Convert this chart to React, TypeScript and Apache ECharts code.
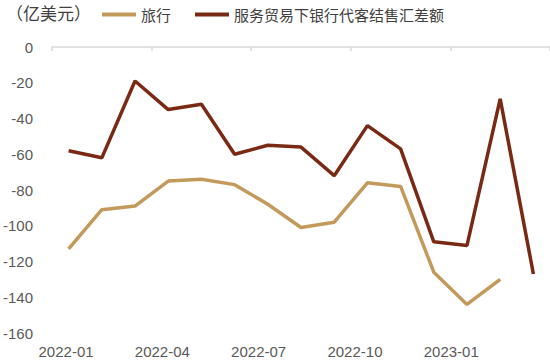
import React, { useEffect, useRef } from "react";
import * as echarts from "echarts";

const categories = [
  "2022-01", "2022-02", "2022-03", "2022-04", "2022-05", "2022-06", "2022-07",
  "2022-08", "2022-09", "2022-10", "2022-11", "2022-12", "2023-01", "2023-02", "2023-03",
];
const travel = [-113, -91, -89, -75, -74, -77, -88, -101, -98, -76, -78, -126, -144, -130, null];
const serviceNet = [-58, -62, -19, -35, -32, -60, -55, -56, -72, -44, -57, -109, -111, -29, -127];
const seriesNames = ["旅行", "服务贸易下银行代客结售汇差额"];
const unitLabel = "（亿美元）";

const FONT = "'Liberation Sans', 'Noto Sans CJK SC', sans-serif";
const CJK = "'Noto Sans CJK SC', sans-serif";

export default function App() {
  const ref = useRef<HTMLDivElement>(null);
  useEffect(() => {
    if (!ref.current) return;
    const chart = echarts.init(ref.current, null, { renderer: "svg" });
    chart.setOption({
      animation: false,
      backgroundColor: "#ffffff",
      textStyle: { fontFamily: FONT },
      graphic: [
        {
          type: "text",
          left: 6,
          top: 4,
          style: { text: unitLabel, font: `17px ${CJK}`, fill: "#404040" },
        },
      ],
      legend: {
        left: 97,
        top: 2,
        itemWidth: 34,
        itemHeight: 4,
        itemGap: 24,
        icon: "rect",
        textStyle: { fontSize: 15, color: "#404040", fontFamily: CJK },
        data: seriesNames,
      },
      grid: [
        { left: 52, right: -10.5, top: 47, bottom: 30 },
        { left: 50, right: 18.5, top: 47, bottom: 30 },
      ],
      xAxis: [
        {
          type: "category",
          gridIndex: 0,
          data: categories,
          position: "top",
          boundaryGap: true,
          axisLine: { show: true, lineStyle: { color: "#d9d9d9", width: 1.5 } },
          axisTick: { show: true, inside: true, interval: 2, length: 4, lineStyle: { color: "#d9d9d9", width: 1.5 } },
          axisLabel: { show: false },
          splitLine: { show: false },
        },
        {
          type: "category",
          gridIndex: 1,
          data: categories,
          position: "bottom",
          boundaryGap: true,
          axisLine: { show: false },
          axisTick: { show: false },
          axisLabel: { show: true, interval: 2, color: "#595959", fontSize: 15, margin: 11, fontFamily: FONT },
          splitLine: { show: false },
        },
      ],
      yAxis: [
        {
          type: "value",
          gridIndex: 0,
          min: -160,
          max: 0,
          interval: 20,
          axisLine: { show: false },
          axisTick: { show: false },
          splitLine: { show: false },
          axisLabel: { color: "#595959", fontSize: 15, margin: 19, fontFamily: FONT },
        },
        {
          type: "value",
          gridIndex: 1,
          min: -160,
          max: 0,
          show: false,
        },
      ],
      series: [
        {
          name: seriesNames[0],
          type: "line",
          xAxisIndex: 0,
          yAxisIndex: 0,
          data: travel,
          symbol: "none",
          lineStyle: { color: "#C39A5B", width: 3.5 },
          itemStyle: { color: "#C39A5B" },
        },
        {
          name: seriesNames[1],
          type: "line",
          xAxisIndex: 0,
          yAxisIndex: 0,
          data: serviceNet,
          symbol: "none",
          lineStyle: { color: "#7A2A14", width: 3.5 },
          itemStyle: { color: "#7A2A14" },
        },
      ],
    });
    return () => chart.dispose();
  }, []);
  return <div ref={ref} style={{ width: 550, height: 363, position: "absolute", left: 0, top: 0 }} />;
}
